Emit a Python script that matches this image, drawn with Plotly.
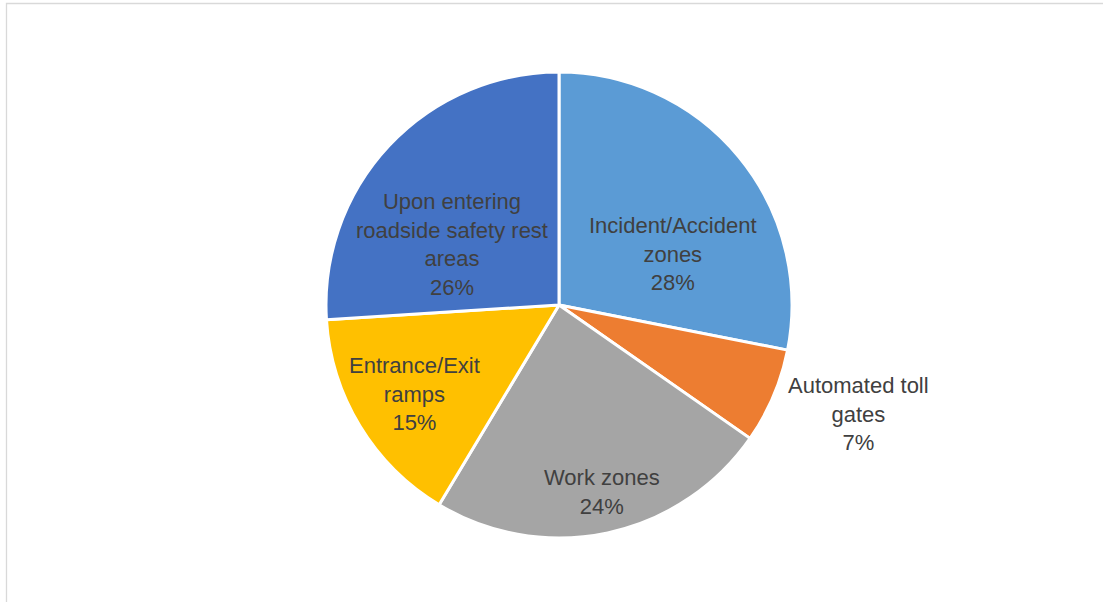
import plotly.graph_objects as go

categories = ["Incident/Accident zones", "Automated toll gates", "Work zones",
              "Entrance/Exit ramps", "Upon entering roadside safety rest areas"]
display_labels = ["Incident/Accident<br>zones", "Automated toll<br>gates", "Work zones",
                  "Entrance/Exit<br>ramps", "Upon entering<br>roadside safety rest<br>areas"]
shares = [28.1, 6.6, 23.9, 15.4, 26.0]
colors = ["#5B9BD5", "#ED7D31", "#A5A5A5", "#FFC000", "#4472C4"]

W, H = 1103, 602
cx, cy, r = 559, 305, 233
# label centres (pixels) in the same order as categories
label_xy = [(673, 254), (858, 414), (602, 492), (414, 394), (452, 244)]

fig = go.Figure(go.Pie(
    labels=categories,
    values=shares,
    textinfo="none",
    sort=False,
    direction="clockwise",
    rotation=0,
    marker=dict(colors=colors, line=dict(color="white", width=3)),
    showlegend=False,
    hoverinfo="label+percent",
    domain=dict(x=[(cx - r) / W, (cx + r) / W], y=[1 - (cy + r) / H, 1 - (cy - r) / H]),
))

total = sum(shares)
annotations = []
for lab, val, (lx, ly) in zip(display_labels, shares, label_xy):
    annotations.append(dict(
        xref="paper", yref="paper", x=lx / W, y=1 - ly / H,
        xanchor="center", yanchor="middle", showarrow=False, align="center",
        text=f"{lab}<br>{val / total * 100:.0f}%",
        font=dict(family="Liberation Sans, Arial, sans-serif", size=22, color="#404040"),
    ))

fig.update_layout(
    width=W, height=H,
    margin=dict(l=0, r=0, t=0, b=0),
    paper_bgcolor="white",
    annotations=annotations,
    shapes=[dict(type="rect", xref="paper", yref="paper",
                 x0=6.5 / W, x1=1.02, y0=-0.02, y1=1 - 3.5 / H,
                 line=dict(color="#D9D9D9", width=1.3), fillcolor="rgba(0,0,0,0)")],
)

fig.write_html("out.html", config={"displayModeBar": False},
               post_script="document.body.style.margin='0px';document.body.style.overflow='hidden';")
